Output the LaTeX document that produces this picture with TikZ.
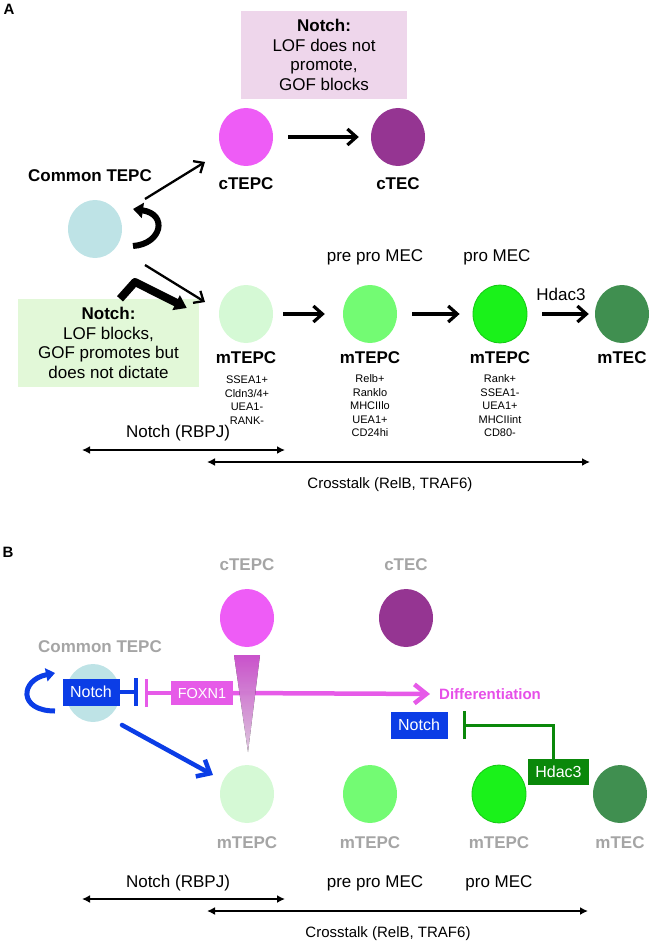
\documentclass[tikz,border=0pt]{standalone}
\usepackage{fontspec}
\setmainfont{Liberation Sans}
\usetikzlibrary{arrows.meta,shapes.geometric}
\definecolor{commonblue}{HTML}{BEE3E6}
\definecolor{ctepcmag}{HTML}{EE5CF6}
\definecolor{ctecpurple}{HTML}{953592}
\definecolor{mone}{HTML}{D5F9D5}
\definecolor{mtwo}{HTML}{73FB73}
\definecolor{mthree}{HTML}{1AF21A}
\definecolor{mthreerim}{HTML}{14C814}
\definecolor{mteccol}{HTML}{408F50}
\definecolor{pinkboxcol}{HTML}{EED6EB}
\definecolor{greenboxcol}{HTML}{E2F8D8}
\definecolor{notchblue}{HTML}{0B3DE6}
\definecolor{foxpink}{HTML}{E65AE8}
\definecolor{diffpink}{HTML}{E64FE8}
\definecolor{trilight}{HTML}{FCE2FC}
\definecolor{hdacgreen}{HTML}{0A880A}
\definecolor{greylab}{HTML}{A5A5A5}
\newcommand\fsz[2]{\fontsize{#1}{#2}\selectfont}
\begin{document}
\begin{tikzpicture}[x=1pt,y=-1pt,
  cell/.style={ellipse, minimum width=54pt, minimum height=58pt, inner sep=0pt},
  lab/.style={font=\bfseries\fsz{17}{20}, inner sep=0pt},
  greylab/.style={lab, text=greylab},
  plain/.style={font=\fsz{17}{20}, inner sep=0pt},
  markers/.style={font=\fsz{11}{13.5}, align=center, inner sep=0pt},
  infobox/.style={font=\fsz{17}{19.7}, align=center, inner sep=0pt},
  thinarr/.style={line width=2.3pt, -{Straight Barb[length=8pt,width=14pt]}},
  medarr/.style={line width=3.2pt, -{Straight Barb[length=9pt,width=16pt]}},
  spanarr/.style={line width=2.5pt, {Latex[length=8pt,width=8pt]}-{Latex[length=8pt,width=8pt]}},
  whitebox/.style={text=white, inner sep=0pt},
]
\useasboundingbox (0,0) rectangle (651,944);

% ================= Panel A =================
\node[font=\bfseries\fsz{15}{18}, inner sep=0pt] (labA) at (9,9) {A};

\node[infobox, fill=pinkboxcol, minimum width=166pt, minimum height=88pt] (pbox) at (324,55)
  {\textbf{Notch:}\\LOF does not\\promote,\\GOF blocks};
\node[infobox, fill=greenboxcol, minimum width=181pt, minimum height=88pt] (gbox) at (108.5,343)
  {\textbf{Notch:}\\LOF blocks,\\GOF promotes but\\does not dictate};

\node[cell, fill=commonblue] (common) at (95,229) {};
\node[cell, fill=ctepcmag] (ctepc) at (246,137) {};
\node[cell, fill=ctecpurple] (ctec) at (398,137) {};
\node[cell, fill=mone] (mA1) at (246,314) {};
\node[cell, fill=mtwo] (mA2) at (370,314) {};
\node[cell, fill=mthree, draw=mthreerim, line width=0.8pt] (mA3) at (500,314) {};
\node[cell, fill=mteccol] (mtecA) at (622,314) {};

\node[lab] (commonlab) at (90,176) {Common TEPC};
\node[lab] (ctepclab) at (246,184) {cTEPC};
\node[lab] (cteclab) at (398,184) {cTEC};
\node[lab] (mA1lab) at (246,358) {mTEPC};
\node[lab] (mA2lab) at (370,358) {mTEPC};
\node[lab] (mA3lab) at (500,358) {mTEPC};
\node[lab] (mtecAlab) at (622,358) {mTEC};

\node[markers] (mk1) at (247,400) {SSEA1+\\Cldn3/4+\\UEA1-\\RANK-};
\node[markers] (mk2) at (370,406) {Relb+\\Ranklo\\MHCIIlo\\UEA1+\\CD24hi};
\node[markers] (mk3) at (500,406) {Rank+\\SSEA1-\\UEA1+\\MHCIIint\\CD80-};

\node[plain] (preproA) at (375,257) {pre pro MEC};
\node[plain] (proA) at (497,257) {pro MEC};
\node[plain] (hdacA) at (561,294) {Hdac3};

% arrows
\draw[medarr, shorten <=15pt, shorten >=12pt] (ctepc) -- (ctec);
\draw[thinarr] ([shift={(50,-30)}]common.center) -- ([shift={(-41,25)}]ctepc.center);
\draw[thinarr] ([shift={(50,36)}]common.center) -- ([shift={(-41,-12)}]mA1.center);
\draw[medarr] ([xshift=10pt]mA1.east) -- ([xshift=-18pt]mA2.west);
\draw[medarr] ([xshift=15pt]mA2.east) -- ([xshift=-13pt]mA3.west);
\draw[medarr] ([xshift=15pt]mA3.east) -- ([xshift=-6pt]mtecA.west);

% self-renewal
\draw[line width=6pt, -{Triangle[length=10pt,width=15pt]}]
  ([shift={(38,17)}]common.center) .. controls (162,244) and (168,214) .. ([shift={(38,-20)}]common.center);
% thick bent arrow from Notch box
\draw[line width=8pt, line join=round, -{Triangle[length=12pt,width=16pt]}]
  ([xshift=11.5pt]gbox.north) -- (135,282) -- ([shift={(-32,-6)}]mA1.west);

% ranges
\node[plain] (rbpjA) at (178,433) {Notch (RBPJ)};
\coordinate (rA1) at (82,450);
\coordinate (rA2) at (285,450);
\draw[spanarr] (rA1) -- (rA2);
\coordinate (cA1) at (207,462);
\coordinate (cA2) at (590,462);
\draw[spanarr] (cA1) -- (cA2);
\node[font=\fsz{15}{18}, inner sep=0pt] (crossA) at (390,485) {Crosstalk (RelB, TRAF6)};

% ================= Panel B =================
\node[font=\bfseries\fsz{15}{18}, inner sep=0pt] (labB) at (8,552) {B};

\node[greylab] (ctepcBlab) at (247,565) {cTEPC};
\node[greylab] (ctecBlab) at (406,565) {cTEC};
\node[greylab] (commonBlab) at (100,647) {Common TEPC};

\node[cell, fill=ctepcmag] (ctepcB) at (247,618) {};
\node[cell, fill=ctecpurple] (ctecB) at (406,618) {};
\node[cell, fill=commonblue] (commonB) at (93,693) {};
\node[cell, fill=mone] (mB1) at (247,794) {};
\node[cell, fill=mtwo] (mB2) at (370,794) {};
\node[cell, fill=mthree, draw=mthreerim, line width=0.8pt] (mB3) at (499,794) {};
\node[cell, fill=mteccol] (mtecB) at (620,794) {};

\node[greylab] (mB1lab) at (247,843) {mTEPC};
\node[greylab] (mB2lab) at (370,843) {mTEPC};
\node[greylab] (mB3lab) at (499,843) {mTEPC};
\node[greylab] (mtecBlab) at (620,843) {mTEC};

\node[whitebox, fill=notchblue, minimum width=57pt, minimum height=27pt, font=\fsz{16}{19}] (notchB1) at (91,692) {Notch};
\node[whitebox, fill=foxpink, minimum width=62pt, minimum height=24pt, font=\fsz{14.5}{17}] (foxn) at (202,693) {FOXN1};
\node[font=\bfseries\fsz{15}{18}, text=diffpink, inner sep=0pt, anchor=west] (diff) at (439,694) {Differentiation};

% pink arrow to differentiation
\draw[foxpink, line width=4.5pt, line cap=round, -{Straight Barb[length=12pt,width=19pt]}, shorten >=9pt] (foxn.east) -- (diff.west);
% shaded triangle under cTEPC
\fill[top color=foxpink, bottom color=trilight, opacity=0.85] (234,655) -- (260,655) -- (248,752) -- cycle;

% inhibitions
\draw[notchblue, line width=3.5pt, -{Bar[width=28pt]}] (notchB1.east) -- ([xshift=18pt]notchB1.east);
\draw[foxpink, line width=3.5pt, -{Bar[width=28pt]}] (foxn.west) -- ([xshift=-26pt]foxn.west);

% blue self renewal
\draw[notchblue, line width=5pt, -{Triangle[length=9pt,width=13pt]}]
  ([shift={(-38,18)}]commonB.center) .. controls (18,711) and (20,680) .. ([shift={(-38,-20)}]commonB.center);
% blue arrow to mTEPC
\draw[notchblue, line width=4.5pt, line cap=round, -{Straight Barb[length=11pt,width=19pt]}]
  ([shift={(29,32)}]commonB.center) -- ([shift={(-34,-19)}]mB1.center);

% Notch / Hdac3
\node[whitebox, fill=notchblue, minimum width=57pt, minimum height=27pt, font=\fsz{16}{19}] (notchB2) at (419,725) {Notch};
\node[whitebox, fill=hdacgreen, minimum width=61pt, minimum height=26pt, font=\fsz{16}{19}] (hdacB) at (558.5,772) {Hdac3};
\draw[hdacgreen, line width=3pt, -{Bar[width=28pt]}] ([xshift=-5pt]hdacB.north) |- ([xshift=15pt]notchB2.east);

% ranges
\node[plain] (rbpjB) at (178,883) {Notch (RBPJ)};
\node[plain] (preproB) at (375,883) {pre pro MEC};
\node[plain] (proB) at (499,883) {pro MEC};
\coordinate (rB1) at (82,899);
\coordinate (rB2) at (285,899);
\draw[spanarr] (rB1) -- (rB2);
\coordinate (cB1) at (207,911);
\coordinate (cB2) at (588,911);
\draw[spanarr] (cB1) -- (cB2);
\node[font=\fsz{15}{18}, inner sep=0pt] (crossB) at (388,934) {Crosstalk (RelB, TRAF6)};
\end{tikzpicture}
\end{document}
